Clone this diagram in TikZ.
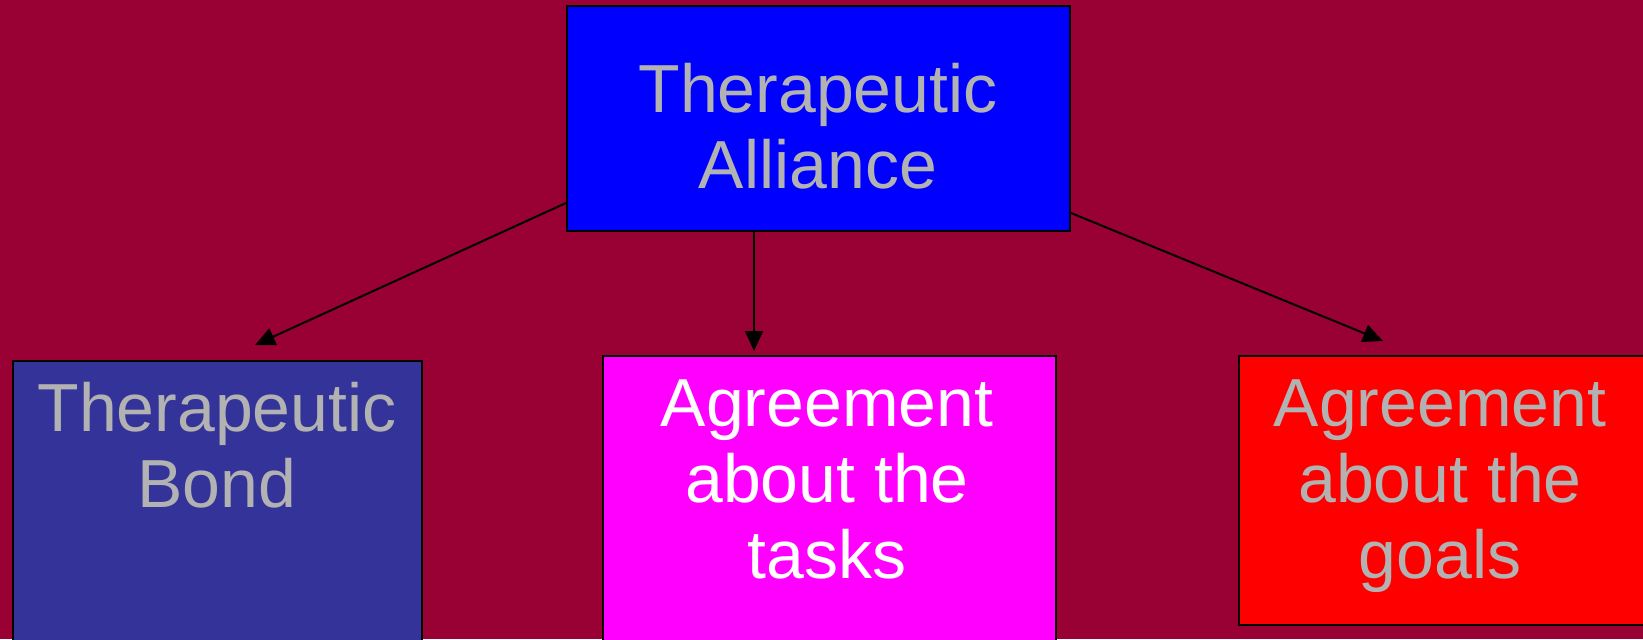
\documentclass[tikz,border=0pt]{standalone}
\usepackage{fontspec}
\setmainfont{Liberation Sans}
\definecolor{slidered}{RGB}{153, 0, 51}
\definecolor{allyblue}{RGB}{0, 0, 255}
\definecolor{bondblue}{RGB}{51, 51, 153}
\definecolor{taskpink}{RGB}{255, 0, 255}
\definecolor{goalred}{RGB}{255, 0, 0}
\definecolor{labelgray}{RGB}{178, 178, 178}
\usetikzlibrary{arrows.meta, positioning, calc}

\begin{document}
\begin{tikzpicture}[x=0.5pt, y=-0.5pt,
    box/.style={draw=black, line width=1pt, rectangle, inner sep=0pt, anchor=north west},
    lbl/.style={text=labelgray, align=center, inner sep=0pt, font=\fontsize{34}{38}\selectfont},
    link/.style={draw=black, line width=1pt, -{Triangle[length=10pt, width=9pt]}}]
  \useasboundingbox (0,0) rectangle (1643,639);
  \fill[slidered] (0,0) rectangle (1643,639);

  % boxes
  \node[box, fill=allyblue, minimum width=251.5pt, minimum height=112.5pt] (alliance) at (566,5) {};
  \node[box, fill=bondblue, minimum width=204.5pt, minimum height=200pt] (bond) at (12,360) {};
  \node[box, fill=taskpink, minimum width=226.5pt, minimum height=200pt] (tasks) at (602,355) {};
  \node[box, fill=goalred, minimum width=205pt, minimum height=134.5pt] (goals) at (1238,355) {};

  % texts
  \node[lbl] (alliancetxt) at (818,126) {Therapeutic\\Alliance};
  \node[lbl] (bondtxt) at (217,445) {Therapeutic\\Bond};
  \node[lbl, text=white] (taskstxt) at (827,479) {Agreement\\about the\\tasks};
  \node[lbl] (goalstxt) at (1440,486) {Agreement\\about the\\goals};

  % arrows
  \draw[link] ([yshift=-42.25pt]alliance.west) -- ([xshift=18.75pt, yshift=7.5pt]bond.north);
  \draw[link] ([xshift=-32.25pt]alliance.south) -- ([xshift=-37.75pt, yshift=2pt]tasks.north);
  \draw[link] ([yshift=-47.25pt]alliance.east) -- ([xshift=-30.5pt, yshift=7pt]goals.north);
\end{tikzpicture}
\end{document}
